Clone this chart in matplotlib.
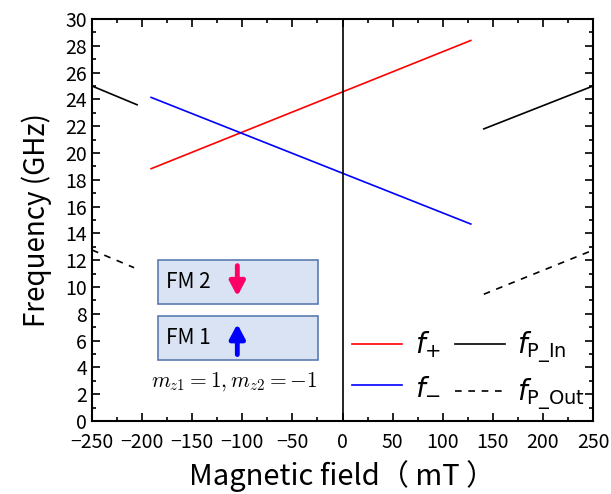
import matplotlib
matplotlib.use("Agg")
import matplotlib.pyplot as plt
from matplotlib.patches import Rectangle
from matplotlib.ticker import MultipleLocator

plt.rcParams['font.family'] = ['Noto Sans CJK JP', 'DejaVu Sans']

# Data (field in mT, frequency in GHz)
f_plus_x = [-191, 128]
f_plus_y = [18.83, 28.4]
f_minus_x = [-191, 128]
f_minus_y = [24.15, 14.7]
pin_left_x = [-250, -205]
pin_left_y = [25.0, 23.6]
pin_right_x = [141, 250]
pin_right_y = [21.8, 25.0]
pout_left_x = [-250, -208]
pout_left_y = [12.76, 11.44]
pout_right_x = [141, 250]
pout_right_y = [9.46, 12.75]

xticks = [-250, -200, -150, -100, -50, 0, 50, 100, 150, 200, 250]
yticks = list(range(0, 31, 2))

fig = plt.figure(figsize=(6.11, 4.94), dpi=100)
ax = fig.add_axes([0.1506, 0.1478, 0.82, 0.8137])

lw = 1.2
l1, = ax.plot(f_plus_x, f_plus_y, color='#ff0000', lw=lw)
l2, = ax.plot(f_minus_x, f_minus_y, color='#0000ff', lw=lw)
l3, = ax.plot(pin_left_x, pin_left_y, color='black', lw=lw)
ax.plot(pin_right_x, pin_right_y, color='black', lw=lw)
l4, = ax.plot(pout_left_x, pout_left_y, color='black', lw=lw, ls=(0, (4, 4)))
ax.plot(pout_right_x, pout_right_y, color='black', lw=lw, ls=(0, (4, 4)))
ax.axvline(0, color='black', lw=1.2)

ax.set_xlim(-250, 250)
ax.set_ylim(0, 30)
ax.set_xticks(xticks)
ax.set_yticks(yticks)
ax.xaxis.set_minor_locator(MultipleLocator(25))
ax.yaxis.set_minor_locator(MultipleLocator(1))
ax.tick_params(which='both', direction='in', top=True, right=True, width=1.2)
ax.tick_params(which='major', length=6, labelsize=14)
ax.tick_params(axis='x', which='major', pad=8)
ax.tick_params(which='minor', length=3)
ax.set_xticklabels(['\u2212250', '\u2212200', '\u2212150', '\u2212100', '\u221250', '0', '50', '100', '150', '200', '250'])
for s in ax.spines.values():
    s.set_linewidth(1.5)

ax.set_xlabel('Magnetic field\uff08 mT \uff09', fontsize=21, labelpad=5)
ax.set_ylabel('Frequency (GHz)', fontsize=20, labelpad=10)

leg = ax.legend([l1, l2, l3, l4],
                [r'$f_{+}$', r'$f_{-}$', r'$f_{\mathrm{P\_In}}$', r'$f_{\mathrm{P\_Out}}$'],
                ncol=2, loc='lower right', bbox_to_anchor=(1.034, -0.04),
                frameon=False, fontsize=20, handlelength=1.8,
                columnspacing=0.5, handletextpad=0.45, labelspacing=0.4)

# Inset schematic
box_kw = dict(facecolor='#dae3f3', edgecolor='#5a7bb0', lw=1.2)
ax.add_patch(Rectangle((-184, 8.73), 160, 3.3, **box_kw))
ax.add_patch(Rectangle((-184, 4.55), 160, 3.3, **box_kw))
ax.text(-176, 10.38, 'FM 2', fontsize=15, va='center', ha='left')
ax.text(-176, 6.2, 'FM 1', fontsize=15, va='center', ha='left')
ax.annotate('', xy=(-105, 9.1), xytext=(-105, 11.8),
            arrowprops=dict(arrowstyle='-|>,head_width=0.45,head_length=0.85',
                            color='#ff0066', lw=3.5))
ax.annotate('', xy=(-105, 7.45), xytext=(-105, 4.75),
            arrowprops=dict(arrowstyle='-|>,head_width=0.45,head_length=0.85',
                            color='#0000ff', lw=3.5))
ax.text(-108, 2.95, r'$m_{z1} = 1, m_{z2} = -1$', fontsize=15.5,
        ha='center', va='center', math_fontfamily='cm')

fig.savefig('out.png', dpi=100)
